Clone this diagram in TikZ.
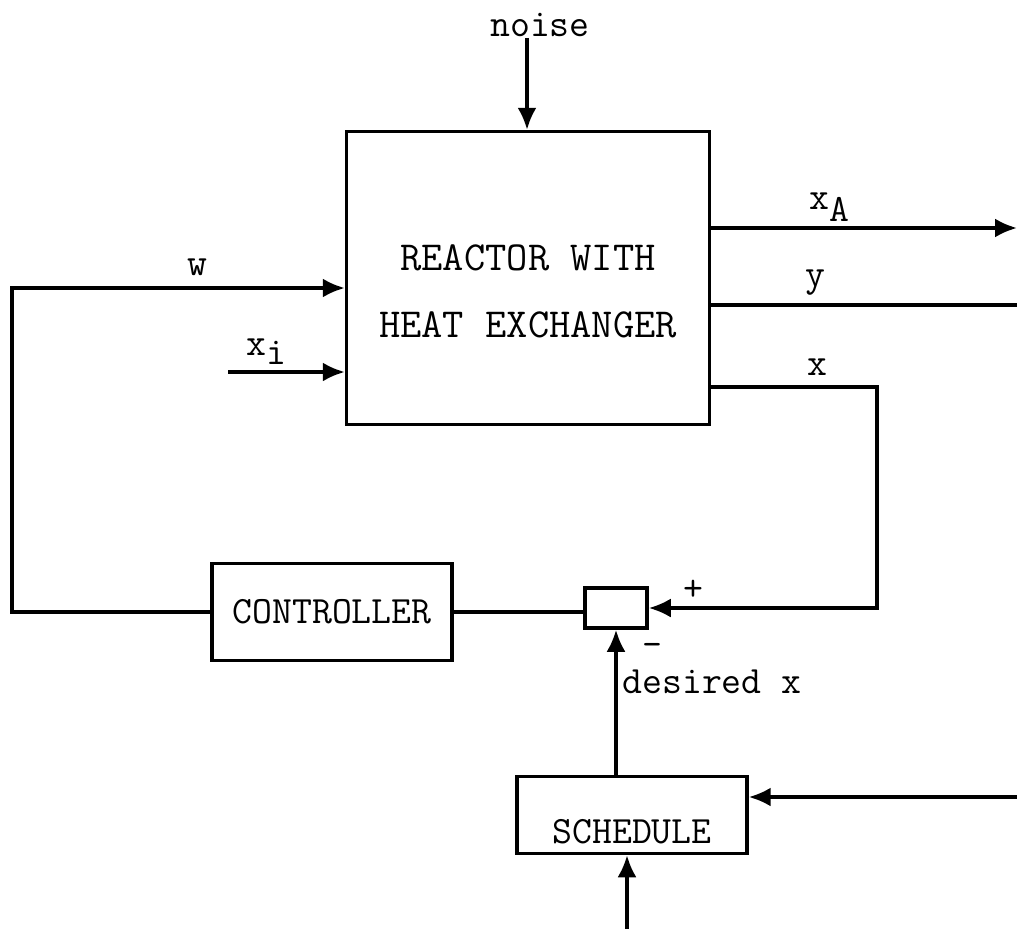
\documentclass[tikz,border=0pt]{standalone}
\usepackage{tikz}
\usetikzlibrary{arrows.meta,positioning,calc}

\begin{document}
\begin{tikzpicture}[
  x=0.02cm, y=-0.02cm,
  line width=1.9pt,
  every node/.style={font=\fontsize{22}{26}\selectfont\ttfamily},
  blk/.style={draw, rectangle, inner sep=0pt, line width=2pt},
  lbl/.style={inner sep=1pt},
  arr/.style={-{Latex[length=4.4mm,width=3.8mm]}}
]
\useasboundingbox (0,0) rectangle (1017,929);

% blocks
\node[blk, minimum width=7.26cm, text height=2.78cm, text depth=3.08cm,
  font=\fontsize{23.5}{27}\selectfont\ttfamily] (reactor) at (528,278)
  {\begin{tabular}[t]{@{}c@{}}REACTOR WITH\\[11pt]HEAT EXCHANGER\end{tabular}};
\node[blk, minimum width=4.8cm, minimum height=1.94cm] (ctrl) at (332,612) {CONTROLLER};
\node[blk, minimum width=1.24cm, minimum height=0.8cm] (sum) at (616,608) {};
\node[blk, minimum width=4.6cm, text height=1.34cm, text depth=0.2cm] (sched) at (632,815) {SCHEDULE};

% labels
\node[lbl] (noise) at (540,25) {noise};
\node[lbl] (w) at (197,267) {w};
\node[lbl] (xi) at (266,352) {x\lower0.55ex\hbox{i}};
\node[lbl] (xA) at (829,207) {x\lower0.7ex\hbox{A}};
\node[lbl] (y) at (815,283) {y};
\node[lbl] (x) at (817,367) {x};
\node[lbl] (plus) at (693,590) {+};
\node[lbl, inner sep=0pt] (minus) at (652,650) {-};
\node[lbl, anchor=west] (desired) at (619,682) {desired x};

% free ends
\coordinate (noisetop) at (527,38);
\coordinate (xAend) at (1017,228);
\coordinate (yend) at (1017,305);
\coordinate (xout) at (877,387);
\coordinate (wleft) at (12,288);
\coordinate (xistart) at (228,372);
\coordinate (schin) at (1017,797);
\coordinate (schbot) at (627,929);

\draw[arr] (noisetop) -- (noisetop |- reactor.north);
\draw[arr] (reactor.east |- xAend) -- (xAend);
\draw (reactor.east |- yend) -- (yend);
\draw[arr] (reactor.east |- xout) -- (xout) |- (sum.east);
\draw[arr] (ctrl.west) -| (wleft) -- (wleft -| reactor.west);
\draw[arr] (xistart) -- (xistart -| reactor.west);
\draw (sum.west |- ctrl.east) -- (ctrl.east);
\draw[arr] (sum.south |- sched.north) -- (sum.south);
\draw[arr] (schin) -- (schin -| sched.east);
\draw[arr] (schbot) -- (schbot |- sched.south);
\end{tikzpicture}
\end{document}
